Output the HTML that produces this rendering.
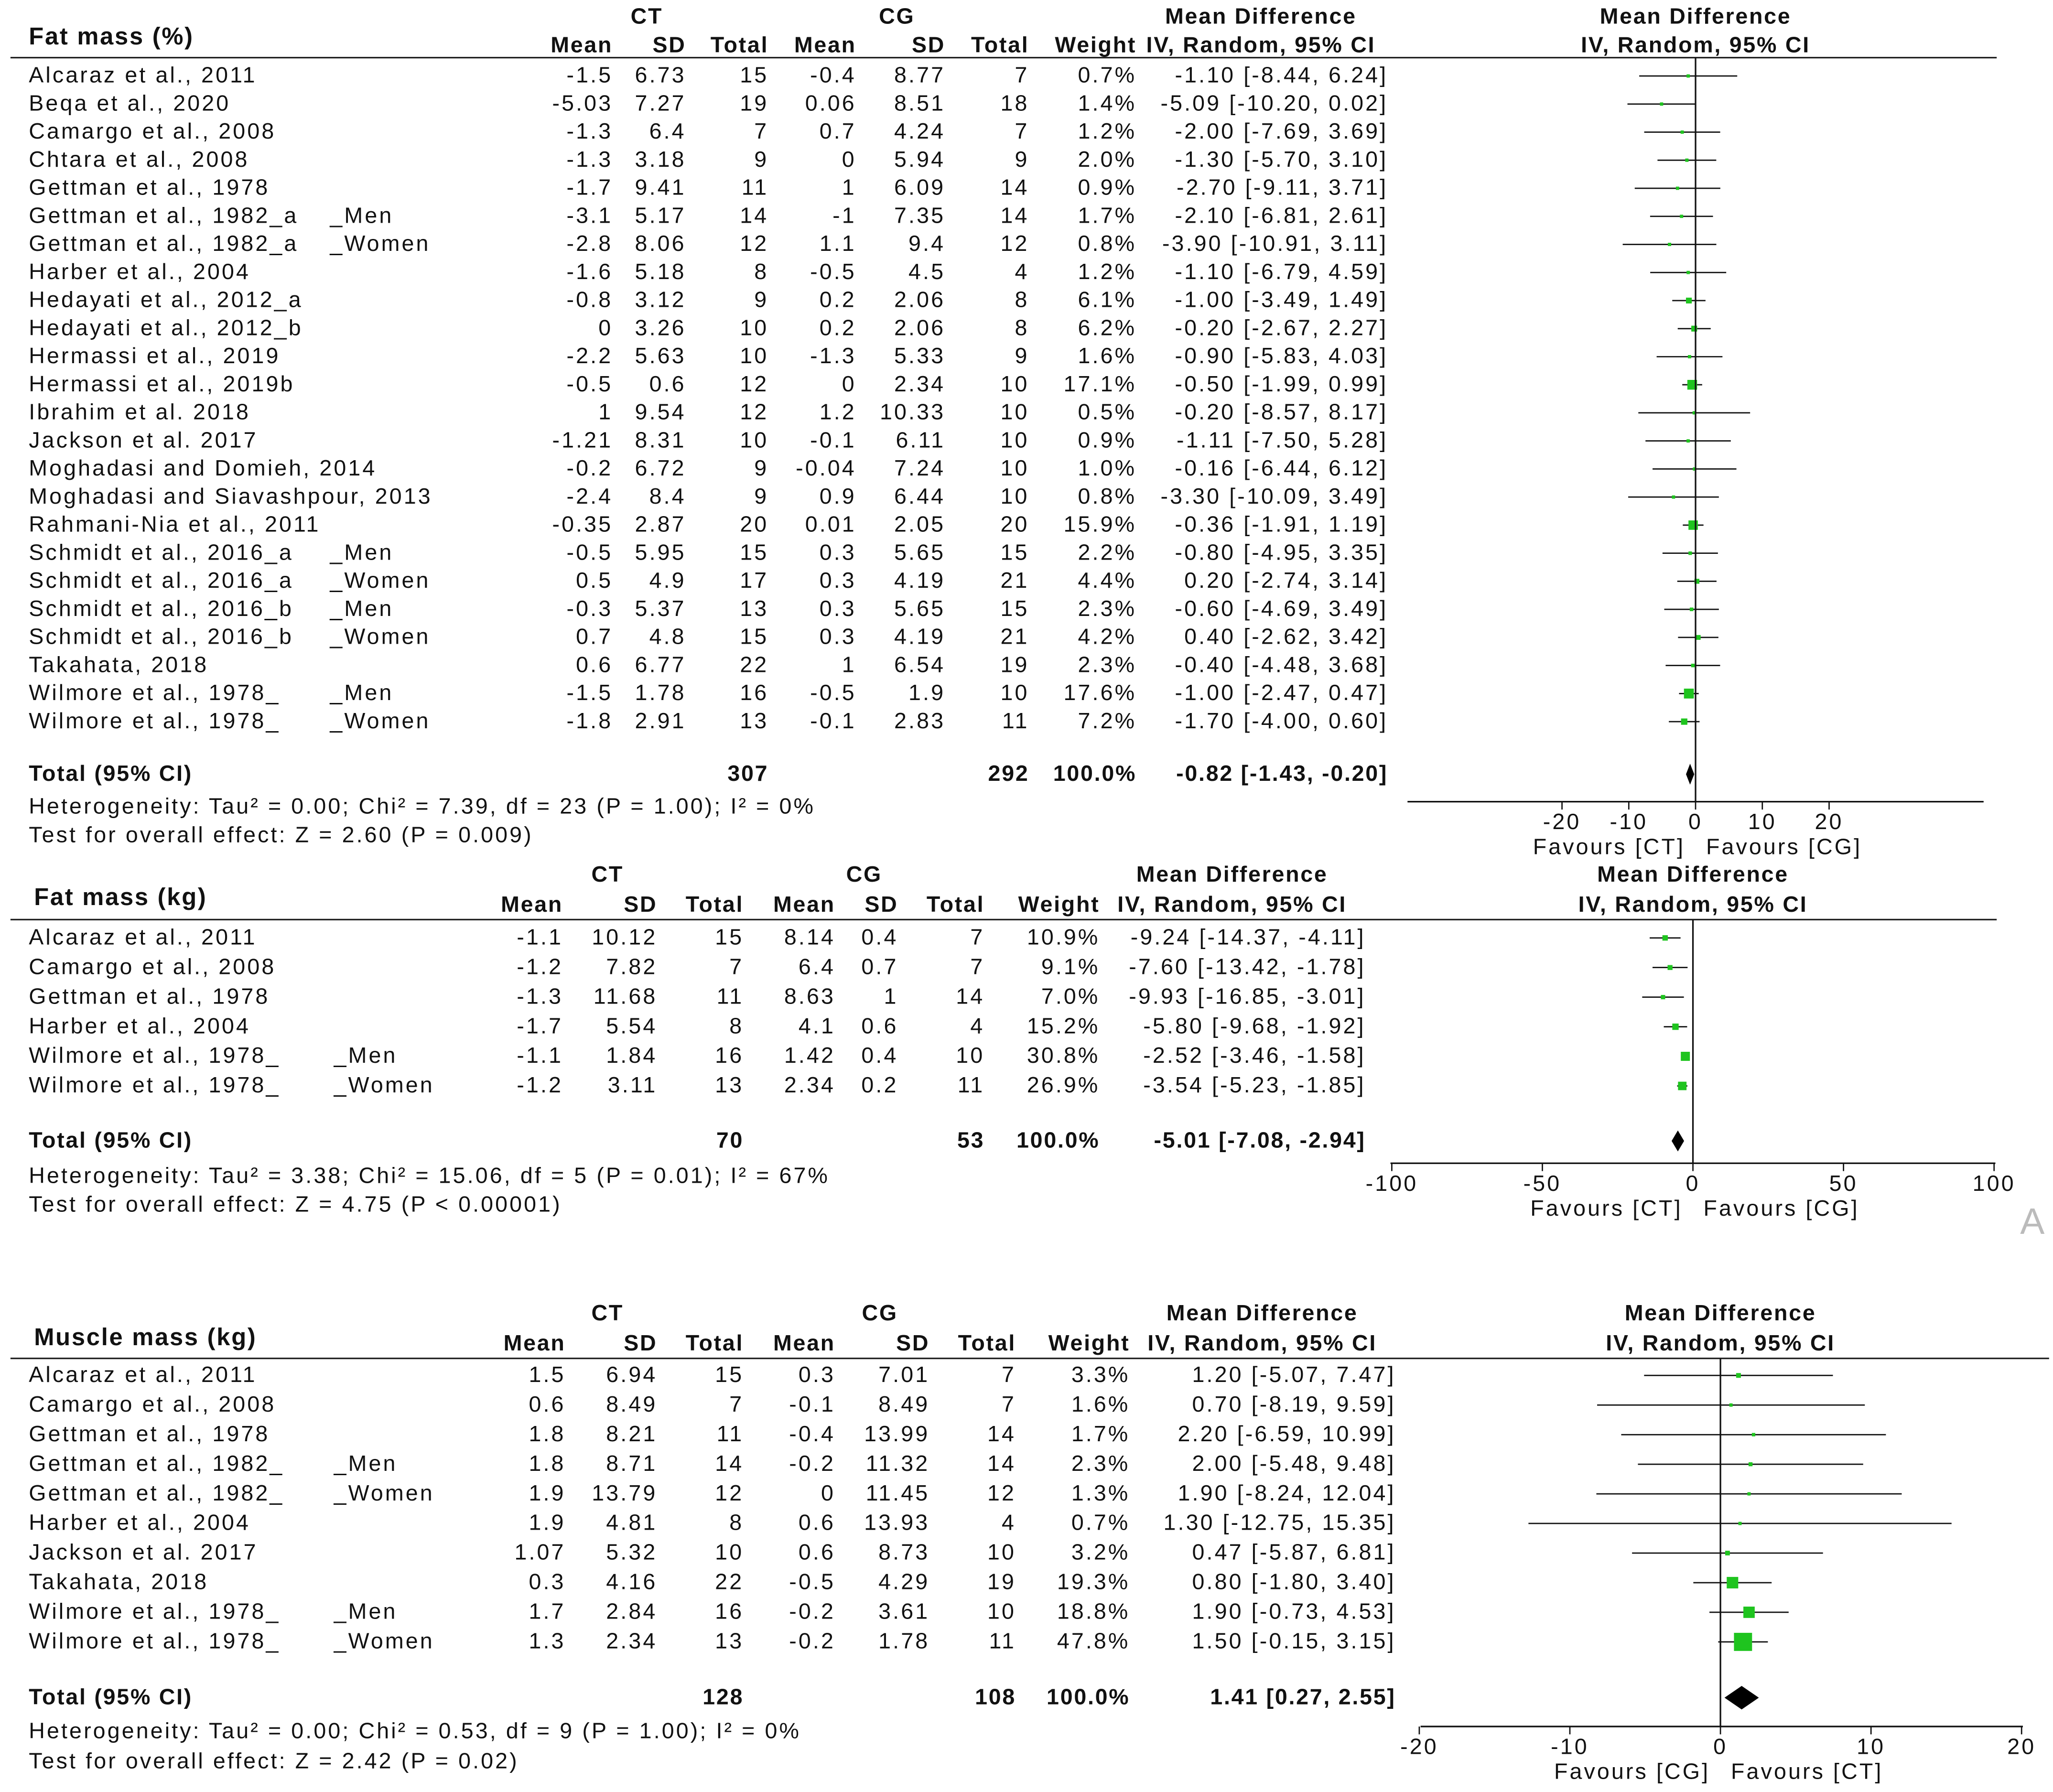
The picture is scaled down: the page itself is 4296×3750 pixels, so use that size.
<!DOCTYPE html>
<html><head><meta charset="utf-8"><style>
html,body{margin:0;padding:0;background:#fff;}
svg{display:block;}
text{font-family:"Liberation Sans",Arial,sans-serif;font-size:17px;letter-spacing:1.5px;fill:#111;}
.b{font-weight:bold;letter-spacing:1px;}
.t{font-size:18.5px;}
</style></head><body>
<svg id="chart" width="4296" height="3750" viewBox="0 0 1568 1368" preserveAspectRatio="none" xmlns="http://www.w3.org/2000/svg"></svg>
<script>
// ---------- Panel 1: Fat mass (%) ----------
const p1Studies=["Alcaraz et al., 2011","Beqa et al., 2020","Camargo et al., 2008","Chtara et al., 2008","Gettman et al., 1978","Gettman et al., 1982_a","Gettman et al., 1982_a","Harber et al., 2004","Hedayati et al., 2012_a","Hedayati et al., 2012_b","Hermassi et al., 2019","Hermassi et al., 2019b","Ibrahim et al. 2018","Jackson et al. 2017","Moghadasi and Domieh, 2014","Moghadasi and Siavashpour, 2013","Rahmani-Nia et al., 2011","Schmidt et al., 2016_a","Schmidt et al., 2016_a","Schmidt et al., 2016_b","Schmidt et al., 2016_b","Takahata, 2018","Wilmore et al., 1978_","Wilmore et al., 1978_"];
const p1Sub=["","","","","","_Men","_Women","","","","","","","","","","","_Men","_Women","_Men","_Women","","_Men","_Women"];
const p1CtMean=["-1.5","-5.03","-1.3","-1.3","-1.7","-3.1","-2.8","-1.6","-0.8","0","-2.2","-0.5","1","-1.21","-0.2","-2.4","-0.35","-0.5","0.5","-0.3","0.7","0.6","-1.5","-1.8"];
const p1CtSd=["6.73","7.27","6.4","3.18","9.41","5.17","8.06","5.18","3.12","3.26","5.63","0.6","9.54","8.31","6.72","8.4","2.87","5.95","4.9","5.37","4.8","6.77","1.78","2.91"];
const p1CtN=[15,19,7,9,11,14,12,8,9,10,10,12,12,10,9,9,20,15,17,13,15,22,16,13];
const p1CgMean=["-0.4","0.06","0.7","0","1","-1","1.1","-0.5","0.2","0.2","-1.3","0","1.2","-0.1","-0.04","0.9","0.01","0.3","0.3","0.3","0.3","1","-0.5","-0.1"];
const p1CgSd=["8.77","8.51","4.24","5.94","6.09","7.35","9.4","4.5","2.06","2.06","5.33","2.34","10.33","6.11","7.24","6.44","2.05","5.65","4.19","5.65","4.19","6.54","1.9","2.83"];
const p1CgN=[7,18,7,9,14,14,12,4,8,8,9,10,10,10,10,10,20,15,21,15,21,19,10,11];
const p1Weight=[0.7,1.4,1.2,2.0,0.9,1.7,0.8,1.2,6.1,6.2,1.6,17.1,0.5,0.9,1.0,0.8,15.9,2.2,4.4,2.3,4.2,2.3,17.6,7.2];
const p1Md=[-1.10,-5.09,-2.00,-1.30,-2.70,-2.10,-3.90,-1.10,-1.00,-0.20,-0.90,-0.50,-0.20,-1.11,-0.16,-3.30,-0.36,-0.80,0.20,-0.60,0.40,-0.40,-1.00,-1.70];
const p1Lo=[-8.44,-10.20,-7.69,-5.70,-9.11,-6.81,-10.91,-6.79,-3.49,-2.67,-5.83,-1.99,-8.57,-7.50,-6.44,-10.09,-1.91,-4.95,-2.74,-4.69,-2.62,-4.48,-2.47,-4.00];
const p1Hi=[6.24,0.02,3.69,3.10,3.71,2.61,3.11,4.59,1.49,2.27,4.03,0.99,8.17,5.28,6.12,3.49,1.19,3.35,3.14,3.49,3.42,3.68,0.47,0.60];
const p1Total=[307,292,-0.82,-1.43,-0.20];
const p1Ticks=[-20,-10,0,10,20];

// ---------- Panel 2: Fat mass (kg) ----------
const p2Studies=["Alcaraz et al., 2011","Camargo et al., 2008","Gettman et al., 1978","Harber et al., 2004","Wilmore et al., 1978_","Wilmore et al., 1978_"];
const p2Sub=["","","","","_Men","_Women"];
const p2CtMean=["-1.1","-1.2","-1.3","-1.7","-1.1","-1.2"];
const p2CtSd=["10.12","7.82","11.68","5.54","1.84","3.11"];
const p2CtN=[15,7,11,8,16,13];
const p2CgMean=["8.14","6.4","8.63","4.1","1.42","2.34"];
const p2CgSd=["0.4","0.7","1","0.6","0.4","0.2"];
const p2CgN=[7,7,14,4,10,11];
const p2Weight=[10.9,9.1,7.0,15.2,30.8,26.9];
const p2Md=[-9.24,-7.60,-9.93,-5.80,-2.52,-3.54];
const p2Lo=[-14.37,-13.42,-16.85,-9.68,-3.46,-5.23];
const p2Hi=[-4.11,-1.78,-3.01,-1.92,-1.58,-1.85];
const p2Total=[70,53,-5.01,-7.08,-2.94];
const p2Ticks=[-100,-50,0,50,100];

// ---------- Panel 3: Muscle mass (kg) ----------
const p3Studies=["Alcaraz et al., 2011","Camargo et al., 2008","Gettman et al., 1978","Gettman et al., 1982_","Gettman et al., 1982_","Harber et al., 2004","Jackson et al. 2017","Takahata, 2018","Wilmore et al., 1978_","Wilmore et al., 1978_"];
const p3Sub=["","","","_Men","_Women","","","","_Men","_Women"];
const p3CtMean=["1.5","0.6","1.8","1.8","1.9","1.9","1.07","0.3","1.7","1.3"];
const p3CtSd=["6.94","8.49","8.21","8.71","13.79","4.81","5.32","4.16","2.84","2.34"];
const p3CtN=[15,7,11,14,12,8,10,22,16,13];
const p3CgMean=["0.3","-0.1","-0.4","-0.2","0","0.6","0.6","-0.5","-0.2","-0.2"];
const p3CgSd=["7.01","8.49","13.99","11.32","11.45","13.93","8.73","4.29","3.61","1.78"];
const p3CgN=[7,7,14,14,12,4,10,19,10,11];
const p3Weight=[3.3,1.6,1.7,2.3,1.3,0.7,3.2,19.3,18.8,47.8];
const p3Md=[1.20,0.70,2.20,2.00,1.90,1.30,0.47,0.80,1.90,1.50];
const p3Lo=[-5.07,-8.19,-6.59,-5.48,-8.24,-12.75,-5.87,-1.80,-0.73,-0.15];
const p3Hi=[7.47,9.59,10.99,9.48,12.04,15.35,6.81,3.40,4.53,3.15];
const p3Total=[128,108,1.41,0.27,2.55];
const p3Ticks=[-20,-10,0,10,20];

const svg=document.getElementById('chart');
const NS="http://www.w3.org/2000/svg";
function el(tag,attrs,parent){const e=document.createElementNS(NS,tag);for(const k in attrs)e.setAttribute(k,attrs[k]);(parent||svg).appendChild(e);return e;}
function txt(s,x,y,anchor,cls,parent,name,fill){const t=el('text',{x:x,y:y,'text-anchor':anchor||'start'},parent);if(cls)t.setAttribute('class',cls);if(fill)t.setAttribute('style','fill:'+fill);t.textContent=s;


return t;}
function f2(v){return v.toFixed(2);}

function panel(cfg,d){
  const g=el('g',{});
  
  
  const c=cfg.cols;
  txt(cfg.title,cfg.titleX,cfg.titleY,'start','b t',g,'panel-title');
  txt('CT',cfg.ctX,cfg.grpY,'middle','b',g,'ct-group-header');
  txt('CG',cfg.cgX,cfg.grpY,'middle','b',g,'cg-group-header');
  txt('Mean Difference',cfg.mdHX,cfg.grpY,'middle','b',g,'md-header');
  txt('Mean Difference',cfg.x0,cfg.grpY,'middle','b',g,'plot-header');
  const hy=cfg.colY;
  txt('Mean',c[0],hy,'end','b',g,'col-header');txt('SD',c[1],hy,'end','b',g,'col-header');txt('Total',c[2],hy,'end','b',g,'col-header');
  txt('Mean',c[3],hy,'end','b',g,'col-header');txt('SD',c[4],hy,'end','b',g,'col-header');txt('Total',c[5],hy,'end','b',g,'col-header');
  txt('Weight',c[6],hy,'end','b',g,'col-header');txt('IV, Random, 95% CI',cfg.mdHX,hy,'middle','b',g,'col-header');
  txt('IV, Random, 95% CI',cfg.x0,hy,'middle','b',g,'plot-col-header');
  el('line',{x1:8,x2:cfg.lineEnd,y1:cfg.lineY,y2:cfg.lineY,stroke:'#222','stroke-width':1.2},g);
  const xs=v=>cfg.x0+v*cfg.ppu;
  for(let i=0;i<d.studies.length;i++){
    const y=cfg.row0+i*cfg.step;
    txt(d.studies[i],22,y+5,'start','',g,'study-name');
    if(d.sub[i])txt(d.sub[i],cfg.subX,y+5,'start','',g,'subgroup');
    txt(d.ctM[i],c[0],y+5,'end','',g,'ct-mean');txt(d.ctS[i],c[1],y+5,'end','',g,'ct-sd');txt(String(d.ctN[i]),c[2],y+5,'end','',g,'ct-total');
    txt(d.cgM[i],c[3],y+5,'end','',g,'cg-mean');txt(d.cgS[i],c[4],y+5,'end','',g,'cg-sd');txt(String(d.cgN[i]),c[5],y+5,'end','',g,'cg-total');
    txt(d.w[i].toFixed(1)+'%',c[6],y+5,'end','',g,'weight');
    txt(f2(d.md[i])+' ['+f2(d.lo[i])+', '+f2(d.hi[i])+']',c[7],y+5,'end','',g,'mean-difference-ci');
    const ci=el('line',{x1:xs(d.lo[i]),x2:xs(d.hi[i]),y1:y,y2:y,stroke:'#111','stroke-width':1},g);
    
    
    const s=Math.max(2.5,Math.sqrt(d.w[i])*cfg.sq);
    const r=el('rect',{x:xs(d.md[i])-s/2,y:y-s/2,width:s,height:s,fill:'#1fc41f'},g);
    
    
  }
  const ty=cfg.totY;
  txt('Total (95% CI)',22,ty+5,'start','b',g,'total-label');
  txt(String(d.tot[0]),c[2],ty+5,'end','b',g,'ct-total-sum');
  txt(String(d.tot[1]),c[5],ty+5,'end','b',g,'cg-total-sum');
  txt('100.0%',c[6],ty+5,'end','b',g,'total-weight');
  txt(f2(d.tot[2])+' ['+f2(d.tot[3])+', '+f2(d.tot[4])+']',c[7],ty+5,'end','b',g,'total-md');
  const dm=el('polygon',{points:`${xs(d.tot[3])},${ty} ${xs(d.tot[2])},${ty-cfg.dh} ${xs(d.tot[4])},${ty} ${xs(d.tot[2])},${ty+cfg.dh}`,fill:'#000'},g);
  
  
  txt(cfg.het,22,cfg.hetY,'start','',g,'heterogeneity');
  txt(cfg.test,22,cfg.testY,'start','',g,'overall-effect');
  el('line',{x1:cfg.x0,x2:cfg.x0,y1:cfg.lineY,y2:cfg.axY,stroke:'#111','stroke-width':1.2},g);
  const ax=el('line',{x1:cfg.axL,x2:cfg.axR,y1:cfg.axY,y2:cfg.axY,stroke:'#111','stroke-width':1.2},g);
  
  
  d.ticks.forEach(t=>{el('line',{x1:xs(t),x2:xs(t),y1:cfg.axY,y2:cfg.axY+6,stroke:'#111'},g);txt(String(t),xs(t),cfg.axY+21,'middle','',g,'x-tick-label');});
  txt(cfg.favL,cfg.x0-8,cfg.axY+40,'end','',g,'favours-left');
  txt(cfg.favR,cfg.x0+8,cfg.axY+40,'start','',g,'favours-right');
}

panel({name:'fat-mass-percent-panel',title:'Fat mass (%)',titleX:22,titleY:34,grpY:18,colY:40,ctX:494,cgX:685,mdHX:963,
 cols:[468,524,587,654,722,786,868,1060],lineY:44,lineEnd:1525,row0:58,step:21.43,subX:252,totY:591,hetY:621,testY:643,
 x0:1295,ppu:5.1,sq:1.8,dh:8,axY:612,axL:1075,axR:1515,favL:'Favours [CT]',favR:'Favours [CG]',
 het:'Heterogeneity: Tau² = 0.00; Chi² = 7.39, df = 23 (P = 1.00); I² = 0%',test:'Test for overall effect: Z = 2.60 (P = 0.009)'},
 {studies:p1Studies,sub:p1Sub,ctM:p1CtMean,ctS:p1CtSd,ctN:p1CtN,cgM:p1CgMean,cgS:p1CgSd,cgN:p1CgN,w:p1Weight,md:p1Md,lo:p1Lo,hi:p1Hi,tot:p1Total,ticks:p1Ticks});

panel({name:'fat-mass-kg-panel',title:'Fat mass (kg)',titleX:26,titleY:691,grpY:673,colY:696,ctX:464,cgX:660,mdHX:941,
 cols:[430,502,568,638,686,752,840,1043],lineY:702,lineEnd:1525,row0:716,step:22.6,subX:255,totY:871,hetY:903,testY:925,
 x0:1293,ppu:2.3,sq:1.25,dh:8,axY:888,axL:1062,axR:1524,favL:'Favours [CT]',favR:'Favours [CG]',
 het:'Heterogeneity: Tau² = 3.38; Chi² = 15.06, df = 5 (P = 0.01); I² = 67%',test:'Test for overall effect: Z = 4.75 (P < 0.00001)'},
 {studies:p2Studies,sub:p2Sub,ctM:p2CtMean,ctS:p2CtSd,ctN:p2CtN,cgM:p2CgMean,cgS:p2CgSd,cgN:p2CgN,w:p2Weight,md:p2Md,lo:p2Lo,hi:p2Hi,tot:p2Total,ticks:p2Ticks});

panel({name:'muscle-mass-panel',title:'Muscle mass (kg)',titleX:26,titleY:1027,grpY:1008,colY:1031,ctX:464,cgX:672,mdHX:964,
 cols:[432,502,568,638,710,776,863,1066],lineY:1037,lineEnd:1565,row0:1050,step:22.6,subX:255,totY:1296,hetY:1327,testY:1350,
 x0:1314,ppu:11.5,sq:2.0,dh:9,axY:1318,axL:1085,axR:1545,favL:'Favours [CG]',favR:'Favours [CT]',
 het:'Heterogeneity: Tau² = 0.00; Chi² = 0.53, df = 9 (P = 1.00); I² = 0%',test:'Test for overall effect: Z = 2.42 (P = 0.02)'},
 {studies:p3Studies,sub:p3Sub,ctM:p3CtMean,ctS:p3CtSd,ctN:p3CtN,cgM:p3CgMean,cgS:p3CgSd,cgN:p3CgN,w:p3Weight,md:p3Md,lo:p3Lo,hi:p3Hi,tot:p3Total,ticks:p3Ticks});

const a=txt('A',1553,942,'middle','',svg,'panel-letter','#bbb');
a.setAttribute('style','fill:#bbb;font-size:28px');
</script>
</body></html>
